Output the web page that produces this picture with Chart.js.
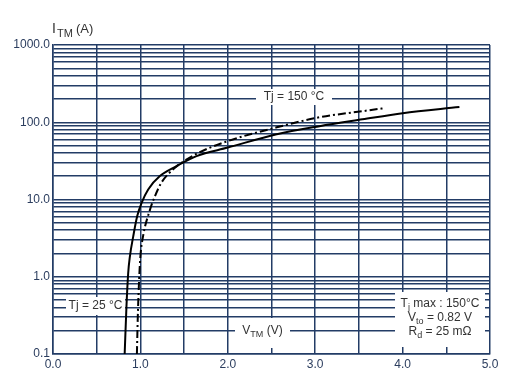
<!DOCTYPE html>
<html>
<head>
<meta charset="utf-8">
<script src="https://cdn.jsdelivr.net/npm/chart.js@4.4.1/dist/chart.umd.min.js"></script>
<style>
  html, body { margin: 0; padding: 0; background: #fff; }
  #wrap { width: 531px; height: 384px; }
</style>
</head>
<body>
<div id="wrap"><canvas id="myChart" width="531" height="384"></canvas></div>
<script>
// (V, A)
const solidV = [0.82, 0.84, 0.86, 0.88, 0.918, 0.963, 1.014, 1.089, 1.223, 1.414, 1.642, 2.00, 2.56, 3.05, 3.54, 4.00, 4.65];
const solidI = [0.1, 0.4, 1.1, 1.84, 3.33, 6.07, 9.06, 13.5, 20.1, 27.1, 36.5, 47, 70, 89, 109, 131, 157];

const dashV = [0.96, 0.97, 0.985, 1.00, 1.03, 1.11, 1.166, 1.24, 1.375, 1.47, 1.66, 2.00, 2.56, 3.05, 3.54, 3.77];
const dashI = [0.1, 0.3, 0.9, 1.84, 3.33, 7.4, 11, 16.5, 24.6, 29.8, 40, 57, 86, 116, 139, 151];

const yDecades = [0.1, 1, 10, 100, 1000];
const yMantissas = [1, 2, 3, 4, 5, 6, 7, 8, 9];
const xTickStep = 0.5;

const gridColor = '#233c66';
const labelColor = '#2b3d5e';
const textColor = '#333333';
const FONT = '"Liberation Sans", Arial, sans-serif';

const toPoints = (xs, ys) => xs.map((x, i) => ({ x: x, y: ys[i] }));

// draw a row of text parts, some of them as subscripts
function drawParts(c, parts, cx, cy, size) {
  const subSize = Math.round(size * 0.75);
  let total = 0;
  parts.forEach(p => {
    c.font = (p.sub ? subSize : size) + 'px ' + FONT;
    p.w = c.measureText(p.t).width;
    total += p.w;
  });
  let x = cx - total / 2;
  parts.forEach(p => {
    c.font = (p.sub ? subSize : size) + 'px ' + FONT;
    c.fillText(p.t, x, cy + (p.sub ? 4 : 0));
    x += p.w;
  });
}

const labels = [
  { box: [256, 89, 76, 16], rows: [[{ t: 'Tj = 150 °C' }]], cy: [97] },
  { box: [66, 297, 59, 18], rows: [[{ t: 'Tj = 25 °C' }]], cy: [306] },
  { box: [235, 318, 55, 30], rows: [[{ t: 'V' }, { t: 'TM', sub: true }, { t: ' (V)' }]], cy: [331] },
  { box: [395, 292, 90, 55], rows: [
      [{ t: 'T' }, { t: 'j', sub: true }, { t: ' max : 150°C' }],
      [{ t: 'V' }, { t: 'to', sub: true }, { t: ' = 0.82 V' }],
      [{ t: 'R' }, { t: 'd', sub: true }, { t: ' = 25 mΩ' }]
    ], cy: [304, 318, 332] }
];

const labelPlugin = {
  id: 'labels',
  beforeDatasetsDraw(chart) {
    const c = chart.ctx;
    c.save();
    labels.forEach(l => {
      c.fillStyle = '#ffffff';
      c.fillRect(l.box[0], l.box[1], l.box[2], l.box[3]);
      c.fillStyle = textColor;
      c.textBaseline = 'middle';
      l.rows.forEach((r, i) => drawParts(c, r, l.box[0] + l.box[2] / 2, l.cy[i], 12));
    });
    c.restore();
  },
  afterDraw(chart) {
    const c = chart.ctx;
    c.save();
    c.fillStyle = textColor;
    c.textBaseline = 'middle';
    c.textAlign = 'left';
    c.font = '14px ' + FONT;
    c.fillText('I', 52, 29);
    c.font = '11px ' + FONT;
    c.fillText('TM', 57, 34);
    c.font = '13px ' + FONT;
    c.fillText('(A)', 76, 29);
    c.restore();
  }
};

const ctx = document.getElementById('myChart').getContext('2d');

const config = {
  type: 'line',
  data: {
    datasets: [
      {
        label: 'Tj = 25 °C',
        data: toPoints(solidV, solidI),
        borderColor: '#000000',
        borderWidth: 2,
        pointRadius: 0,
        cubicInterpolationMode: 'monotone',
        fill: false
      },
      {
        label: 'Tj = 150 °C',
        data: toPoints(dashV, dashI),
        borderColor: '#000000',
        borderWidth: 2,
        borderDash: [8, 3, 2, 3],
        pointRadius: 0,
        cubicInterpolationMode: 'monotone',
        fill: false
      }
    ]
  },
  options: {
    responsive: false,
    animation: false,
    layout: { padding: { top: 45, right: 41, left: 0, bottom: 0 } },
    plugins: {
      legend: { display: false },
      tooltip: { enabled: false }
    },
    scales: {
      x: {
        type: 'linear',
        min: 0,
        max: 5,
        afterFit: s => { s.height = 30; },
        ticks: {
          stepSize: xTickStep,
          padding: 3,
          color: labelColor,
          font: { family: FONT, size: 12 },
          autoSkip: false,
          maxRotation: 0,
          callback: v => (Math.abs(v % 1) < 1e-9 ? v.toFixed(1) : '')
        },
        grid: { color: gridColor, lineWidth: 1.5, drawTicks: false },
        border: { color: gridColor, width: 1.5 }
      },
      y: {
        type: 'logarithmic',
        min: 0.1,
        max: 1000,
        afterFit: s => { s.width = 53; },
        afterBuildTicks: s => {
          const t = [];
          yDecades.forEach(d => {
            yMantissas.forEach(m => {
              const v = +(d * m).toPrecision(3);
              if (v <= 1000) t.push({ value: v });
            });
          });
          s.ticks = t;
        },
        ticks: {
          padding: 3,
          color: labelColor,
          font: { family: FONT, size: 12 },
          autoSkip: false,
          callback: v => (yDecades.includes(v) ? v.toFixed(1) : '')
        },
        grid: { color: gridColor, lineWidth: 1.5, drawTicks: false },
        border: { color: gridColor, width: 1.5 }
      }
    }
  },
  plugins: [labelPlugin]
};

const myChart = new Chart(ctx, config);
</script>
</body>
</html>
